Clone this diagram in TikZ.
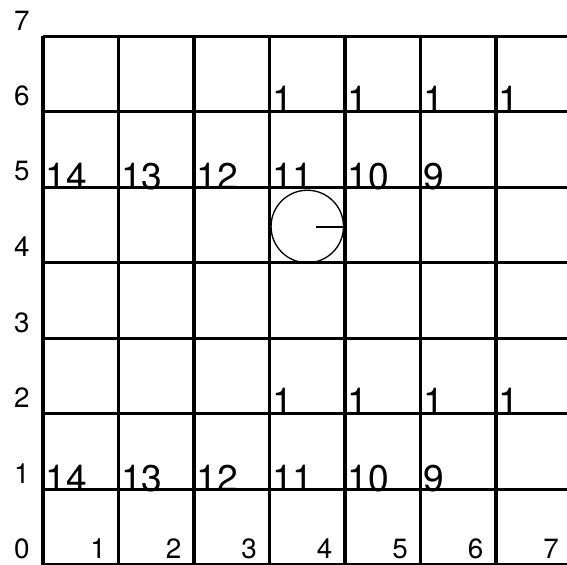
\documentclass[tikz,border=0pt]{standalone}
\usepackage{fontspec}
\setmainfont{TeX Gyre Heros}
\usepackage{tikz}
\usetikzlibrary{positioning, calc}
\tikzset{
    gridline/.style={draw=black, line width=1.2pt},
    axislabel/.style={font=\fontsize{10.5}{12}\selectfont, inner sep=0pt},
    celllabel/.style={font=\fontsize{14}{15}\selectfont, anchor=base west, inner sep=0pt},
    robotbody/.style={draw=black, line width=0.5pt, circle, minimum size=0.96cm, inner sep=0pt},
    heading/.style={draw=black, line width=0.7pt}
}
\begin{document}
\begin{tikzpicture}[x=1cm, y=1cm]
    \useasboundingbox (-0.57,0) rectangle (6.94,7.48);

    % axis numbers
    \foreach \k in {0,...,7} {
        \node [axislabel] (ylab\k) at (-0.28,\k+0.21) {\k};
    }
    \foreach \k in {1,...,7} {
        \node [axislabel] (xlab\k) at (\k-0.27,0.21) {\k};
    }

    % upper rows
    \node [celllabel] (a14) at (0.03,4.97) {14};
    \node [celllabel] (a13) at (1.03,4.97) {13};
    \node [celllabel] (a12) at (2.03,4.97) {12};
    \node [celllabel] (a11) at (3.03,4.97) {11};
    \node [celllabel] (a10) at (4.03,4.97) {10};
    \node [celllabel] (a9) at (5.03,4.97) {9};
    \node [celllabel] (b1) at (3.03,5.99) {1};
    \node [celllabel] (b2) at (4.03,5.99) {1};
    \node [celllabel] (b3) at (5.03,5.99) {1};
    \node [celllabel] (b4) at (6.03,5.99) {1};

    % lower rows
    \node [celllabel] (c14) at (0.03,0.97) {14};
    \node [celllabel] (c13) at (1.03,0.97) {13};
    \node [celllabel] (c12) at (2.03,0.97) {12};
    \node [celllabel] (c11) at (3.03,0.97) {11};
    \node [celllabel] (c10) at (4.03,0.97) {10};
    \node [celllabel] (c9) at (5.03,0.97) {9};
    \node [celllabel] (d1) at (3.03,1.99) {1};
    \node [celllabel] (d2) at (4.03,1.99) {1};
    \node [celllabel] (d3) at (5.03,1.99) {1};
    \node [celllabel] (d4) at (6.03,1.99) {1};

    \draw [gridline] (0,0) grid (7,7);

    \node [robotbody] (robot) at (3.5,4.48) {};
    \coordinate (nose) at ($(robot.center)+(0.12,-0.01)$);
    \draw [heading] (nose) -- (nose -| robot.east);
\end{tikzpicture}
\end{document}
